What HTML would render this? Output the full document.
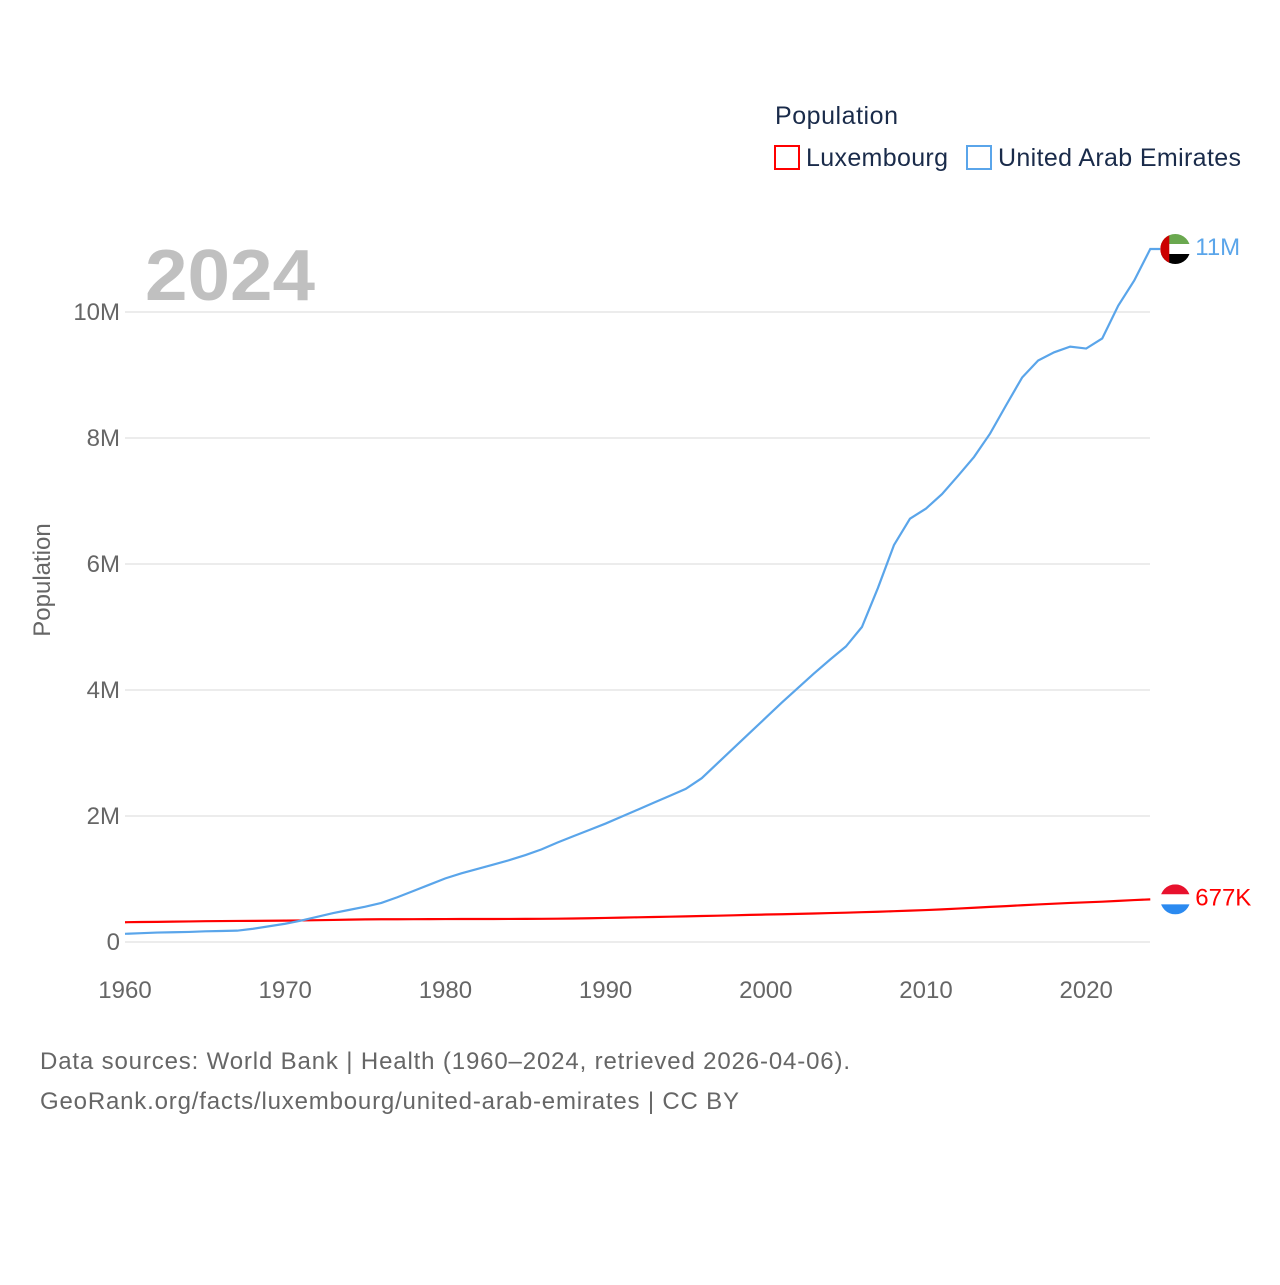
<!DOCTYPE html>
<html><head><meta charset="utf-8"><style>
body{margin:0;background:#fff;font-family:"Liberation Sans",sans-serif}
svg text{font-family:"Liberation Sans",sans-serif}
</style></head><body>
<svg id="c" width="1280" height="1280" viewBox="0 0 1280 1280">
<g id="grid"></g>
<g id="ticks"></g>
<text x="145" y="300" font-size="72" font-weight="bold" fill="#c0c0c0" textLength="170" lengthAdjust="spacingAndGlyphs">2024</text>
<text transform="translate(50,580) rotate(-90)" text-anchor="middle" font-size="24" fill="#666">Population</text>
<g>
<text x="775" y="124" font-size="25" fill="#1a2b4a" textLength="123">Population</text>
<g><rect x="775" y="146" width="24" height="23" fill="none" stroke="#f00" stroke-width="2"/><text x="806" y="166" font-size="25" fill="#1a2b4a" textLength="142">Luxembourg</text></g>
<g><rect x="967" y="146" width="24" height="23" fill="none" stroke="#5aa5ea" stroke-width="2"/><text x="998" y="166" font-size="25" fill="#1a2b4a" textLength="243">United Arab Emirates</text></g>
</g>
<g id="series"></g>
<text x="40" y="1069" font-size="24" fill="#666" textLength="810">Data sources: World Bank | Health (1960–2024, retrieved 2026-04-06).</text>
<text x="40" y="1109" font-size="24" fill="#666" textLength="699">GeoRank.org/facts/luxembourg/united-arab-emirates | CC BY</text>
</svg>
<script>
const years=[];for(let y=1960;y<=2024;y++)years.push(y);
const uae=[0.13,0.14,0.15,0.155,0.16,0.17,0.175,0.18,0.21,0.25,0.29,0.34,0.40,0.46,0.51,0.56,0.62,0.71,0.81,0.91,1.01,1.09,1.16,1.23,1.30,1.38,1.47,1.58,1.68,1.78,1.88,1.99,2.10,2.21,2.32,2.43,2.60,2.84,3.08,3.32,3.56,3.80,4.03,4.26,4.48,4.69,5.00,5.62,6.30,6.72,6.88,7.11,7.40,7.70,8.07,8.52,8.96,9.23,9.36,9.45,9.42,9.58,10.10,10.50,11.0];
const lux=[0.314,0.317,0.320,0.323,0.326,0.330,0.332,0.334,0.335,0.337,0.339,0.342,0.346,0.350,0.355,0.359,0.361,0.361,0.362,0.363,0.364,0.365,0.365,0.365,0.366,0.367,0.368,0.370,0.373,0.377,0.382,0.387,0.392,0.397,0.402,0.407,0.413,0.418,0.424,0.430,0.436,0.441,0.446,0.452,0.459,0.465,0.473,0.480,0.489,0.498,0.507,0.518,0.531,0.544,0.557,0.570,0.583,0.596,0.608,0.620,0.630,0.640,0.653,0.666,0.677];
const yTicks=[0,2,4,6,8,10];const yLabels=["0","2M","4M","6M","8M","10M"];
const xTicks=[1960,1970,1980,1990,2000,2010,2020];
const X=y=>125+(y-1960)*16.02, Y=v=>942-v*63;
const NS='http://www.w3.org/2000/svg';
function mk(t,a,p){const e=document.createElementNS(NS,t);for(const k in a)e.setAttribute(k,a[k]);p.appendChild(e);return e;}
const grid=document.getElementById('grid'),ticks=document.getElementById('ticks'),ser=document.getElementById('series');
yTicks.forEach((v,i)=>{
 const l=mk('line',{x1:125,x2:1150,y1:Y(v),y2:Y(v),stroke:'#e6e6e6','stroke-width':1.5},grid);
 
 
 const t=mk('text',{x:120,y:Y(v)+8,'text-anchor':'end','font-size':24,fill:'#666'},ticks);t.textContent=yLabels[i];
 
 
});
xTicks.forEach(v=>{
 const t=mk('text',{x:X(v),y:998,'text-anchor':'middle','font-size':24,fill:'#666'},ticks);t.textContent=v;
 
 
});
function line(d,c,n,ext){let s=d.map((v,i)=>(i?'L':'M')+X(years[i])+','+Y(v)).join('');
 if(ext)s+='L'+(X(2024)+10)+','+Y(d[d.length-1]);
 const p=mk('path',{d:s,fill:'none',stroke:c,'stroke-width':2.2},ser);
 
 }
line(lux,'#f00','luxembourg-line',false);line(uae,'#5aa5ea','uae-line',true);
const ly=Y(lux[lux.length-1]),uy=Y(uae[uae.length-1]),ex=X(2024)+25;
let g=mk('g',{},ser);
mk('clipPath',{id:'cu'},g).appendChild(mk('circle',{cx:ex,cy:uy,r:15},g));
const gu=mk('g',{'clip-path':'url(#cu)'},g);
mk('rect',{x:ex-15,y:uy-15,width:30,height:10,fill:'#6aa84f'},gu);mk('rect',{x:ex-15,y:uy-5,width:30,height:10,fill:'#fff'},gu);mk('rect',{x:ex-15,y:uy+5,width:30,height:10,fill:'#000'},gu);mk('rect',{x:ex-15,y:uy-15,width:9,height:30,fill:'#c00'},gu);
let t=mk('text',{x:ex+20,y:uy+6,'font-size':24,fill:'#5aa5ea'},ser);t.textContent='11M';

g=mk('g',{},ser);
mk('clipPath',{id:'cl'},g).appendChild(mk('circle',{cx:ex,cy:ly,r:15},g));
const gl=mk('g',{'clip-path':'url(#cl)'},g);
mk('rect',{x:ex-15,y:ly-15,width:30,height:10,fill:'#e8112d'},gl);mk('rect',{x:ex-15,y:ly-5,width:30,height:10,fill:'#fff'},gl);mk('rect',{x:ex-15,y:ly+5,width:30,height:10,fill:'#2b8af0'},gl);
t=mk('text',{x:ex+20,y:ly+6,'font-size':24,fill:'#f00'},ser);t.textContent='677K';

</script>
</body></html>
